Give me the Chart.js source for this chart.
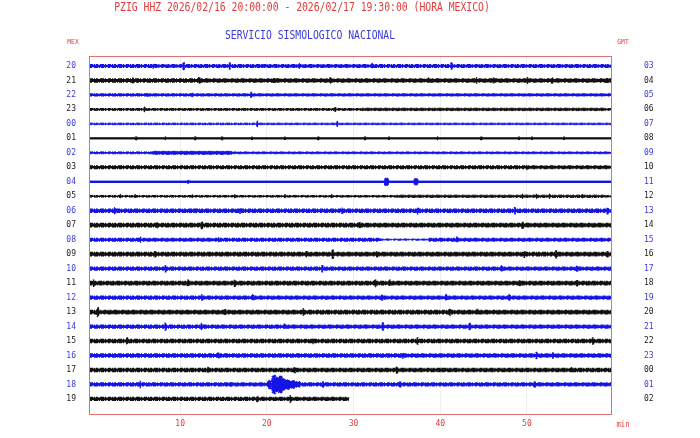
<!DOCTYPE html>
<html>
<head>
<meta charset="utf-8">
<script src="https://cdn.jsdelivr.net/npm/chart.js@4.4.1/dist/chart.umd.min.js"></script>
<style>
  html, body { margin: 0; padding: 0; background: #fff; }
  #wrap { width: 700px; height: 438px; }
</style>
</head>
<body>
<div id="wrap"><canvas id="heli" width="700" height="438"></canvas></div>
<script>
// hour labels for each 60-minute line
const mexHours = ['20','21','22','23','00','01','02','03','04','05','06','07','08','09','10','11','12','13','14','15','16','17','18','19'];
const gmtHours = ['03','04','05','06','07','08','09','10','11','12','13','14','15','16','17','18','19','20','21','22','23','00','01','02'];
const minuteTicks = [10, 20, 30, 40, 50];

// background noise level of each line (amplitude, arbitrary units)
const traceBase = [1.3, 1.5, 1.1, 0.9, 0.75, 0.6, 0.9, 1.2, 0.7, 0.8, 1.5, 1.6,
                   1.3, 1.6, 1.4, 1.6, 1.4, 1.6, 1.4, 1.5, 1.4, 1.4, 1.4, 1.4];

// arrivals / bursts on each line: [minute, amplitude, duration in minutes]
const traceEvents = [
    [[6.9, 2], [10.4, 3.5], [15.7, 3], [19.5, 2], [23.7, 2.2], [32.2, 2.5], [41.3, 3]],
    [[4.6, 2.5], [12.2, 3.2], [20.9, 2.5], [27.3, 2.5], [38.7, 2.5], [44.2, 2.5], [46.2, 3], [50.1, 3], [52.9, 2.5], [59.3, 2.5]],
    [[6.2, 2], [11.4, 2], [18.2, 3]],
    [[5.9, 2.5], [27.9, 2.5], [45, 1.2, 28]],
    [[18.9, 3], [28.1, 3]],
    [[4.9, 1.6], [8.3, 1.6], [11.7, 1.6], [14.8, 1.6], [18.3, 1.6], [22.1, 1.6], [25.9, 1.6], [31.3, 1.6], [34.1, 1.6], [39.7, 1.6], [44.7, 1.6], [49.1, 1.6], [50.6, 1.6], [54.3, 1.6]],
    [[11.4, 1.5, 9.2]],
    [[50, 1.8]],
    [[10.9, 1.5], [33.8, 3.5, 0.35], [37.2, 3, 0.35]],
    [[3.1, 1.8], [4.8, 1.8], [11.4, 1.8], [16.3, 1.8], [22.1, 1.8], [27.5, 1.8], [47, 1.1, 24], [49.5, 2.2], [51.1, 2.2], [52.6, 2.2], [56.4, 2.2]],
    [[2.5, 3], [11.7, 2.5], [16.9, 2.5], [28.7, 2.5], [37.4, 3], [48.6, 3], [59.3, 3]],
    [[7.4, 2.5], [12.5, 3.2], [30.7, 3], [49.5, 3]],
    [[5.4, 2.5], [14.4, 2], [41.9, 2.5]],
    [[7.1, 2.5], [24.6, 2.5], [27.6, 4], [32.7, 2.5], [49.7, 3], [53.4, 3.5], [59.3, 2.5]],
    [[8.3, 3], [26.4, 3], [47.1, 3], [55.8, 3]],
    [[0, 3], [10.9, 3], [16.3, 3], [32.5, 3.5], [34.2, 3], [49.2, 3], [55.8, 2.5]],
    [[12.5, 2.5], [18.4, 3], [33.3, 3], [40.7, 3], [48, 3]],
    [[0.5, 4.5], [15.2, 3], [24.2, 3], [41.1, 3.5], [44.3, 2.5]],
    [[8.3, 3.5], [12.5, 3], [22.1, 2.5], [33.4, 3.5], [43.4, 3]],
    [[3.9, 3], [25.3, 2.5], [37.4, 3], [57.6, 3]],
    [[14.4, 3], [35.7, 2.5], [51.1, 3], [53, 2.5]],
    [[13.2, 2.5], [23.2, 3], [35, 3], [40.3, 2.5], [55.2, 2.5]],
    [[5.4, 3], [15.8, 2.5], [20.3, 4, 0.25], [20.8, 9, 0.3], [21.2, 7, 0.3], [21.55, 8, 0.3], [21.9, 6, 0.3], [22.35, 4.5, 0.4],
     [22.9, 3.5, 0.5], [23.5, 2.6, 0.5], [26.5, 2.5], [35.4, 3], [50.9, 2.5]],
    [[18.9, 2.5], [22.7, 3]]
];

// flat stretches (data gap): [from minute, to minute, amplitude]
const quietSpans = { 12: [[33.1, 38.6, 0.35]] };
// the last line stops where the recording ends
const traceStop = { 23: 29.5 };

const X_MIN = -0.4, X_MAX = 59.7;
const AMP_TO_ROW = 1 / 14.48;
const RAMP = 0.08;
const BLUE = '#1414e6', BLACK = '#111111', RED = '#e03c3c';

function ampAt(r, x) {
    for (const [s, e, q] of (quietSpans[r] || [])) {
        if (x >= s && x <= e) return q;
    }
    const base = traceBase[r];
    let a = base;
    for (const [m, peak, w = 0.06] of traceEvents[r]) {
        const d = Math.abs(x - m) - w / 2;
        if (d <= 0) a = Math.max(a, peak);
        else if (d < RAMP) a = Math.max(a, peak - (peak - base) * d / RAMP);
    }
    return a;
}

function envelope(r) {
    const end = traceStop[r] !== undefined ? traceStop[r] : X_MAX;
    let xs = [X_MIN, end];
    for (const [m, , w = 0.06] of traceEvents[r]) {
        xs.push(m - w / 2 - RAMP, m - w / 2, m, m + w / 2, m + w / 2 + RAMP);
    }
    for (const [s, e] of (quietSpans[r] || [])) xs.push(s - 0.05, s, e, e + 0.05);
    xs = [...new Set(xs.filter(x => x >= X_MIN && x <= end).map(x => +x.toFixed(3)))].sort((a, b) => a - b);
    return {
        upper: xs.map(x => ({ x, y: r - ampAt(r, x) * AMP_TO_ROW })),
        lower: xs.map(x => ({ x, y: r + ampAt(r, x) * AMP_TO_ROW }))
    };
}

const datasets = [];
mexHours.forEach((h, r) => {
    const color = r % 2 === 0 ? BLUE : BLACK;
    const base = traceBase[r];
    const width = base >= 1.2 ? 1.5 : 1;
    const fuzzy = base > 0.7;
    const env = envelope(r);
    datasets.push({
        label: h + ' hi', data: env.upper, borderColor: color, borderWidth: width,
        borderDash: fuzzy ? [3, 1, 1, 1, 2, 2, 4, 1, 1, 2] : [], pointRadius: 0, fill: false, tension: 0
    });
    datasets.push({
        label: h + ' lo', data: env.lower, borderColor: color, backgroundColor: color,
        borderWidth: width, borderDash: fuzzy ? [2, 2, 4, 1, 1, 1, 3, 1, 1, 2] : [],
        pointRadius: 0, fill: '-1', tension: 0
    });
});

const rowTickColor = ctx => (ctx.index % 2 === 0 ? '#3a3ae0' : '#222222');
const rowTicks = axis => { axis.ticks = mexHours.map((_, i) => ({ value: i })); };
const fixRowAxis = width => s => { s.width = width; s.paddingTop = 0; s.paddingBottom = 0; };

function squeezedText(ctx, str, cx, cy, size, color, sx) {
    ctx.save();
    ctx.font = size + 'px "DejaVu Sans Mono"';
    ctx.fillStyle = color;
    ctx.textAlign = 'center';
    ctx.textBaseline = 'middle';
    ctx.translate(cx, cy);
    ctx.scale(sx, 1);
    ctx.fillText(str, 0, 0);
    ctx.restore();
}

const frameAndLabels = {
    id: 'frameAndLabels',
    afterDraw(chart) {
        const { ctx, chartArea: a } = chart;
        ctx.save();
        ctx.strokeStyle = '#e07070';
        ctx.lineWidth = 1;
        ctx.strokeRect(a.left - 0.5, a.top - 0.5, a.right - a.left + 1, a.bottom - a.top + 1);
        ctx.restore();
        squeezedText(ctx, 'PZIG HHZ 2026/02/16 20:00:00 - 2026/02/17 19:30:00 (HORA MEXICO)', 302, 8, 13, RED, 0.75);
        squeezedText(ctx, 'SERVICIO SISMOLOGICO NACIONAL', 310, 36, 13, '#3a3ad8', 0.75);
        squeezedText(ctx, 'MEX', 73, 42, 7, RED, 0.9);
        squeezedText(ctx, 'GMT', 623, 42, 7, RED, 0.9);
        squeezedText(ctx, 'min', 623, 425, 8, RED, 0.9);
    }
};

new Chart(document.getElementById('heli').getContext('2d'), {
    type: 'line',
    data: { datasets },
    plugins: [frameAndLabels],
    options: {
        responsive: false,
        animation: false,
        devicePixelRatio: 1,
        layout: { padding: { top: 57, left: 0, right: 0, bottom: 0 } },
        plugins: { legend: { display: false }, tooltip: { enabled: false } },
        scales: {
            x: {
                type: 'linear', min: X_MIN, max: X_MAX,
                afterBuildTicks: axis => { axis.ticks = minuteTicks.map(v => ({ value: v })); },
                afterFit: s => { s.height = 24; },
                ticks: { color: RED, font: { family: 'DejaVu Sans Mono', size: 8 }, padding: 5, maxRotation: 0, autoSkip: false },
                grid: { color: '#eeeeee', drawTicks: false },
                border: { display: false }
            },
            y: {
                position: 'left', min: -0.62, max: 24.04, reverse: true,
                afterBuildTicks: rowTicks,
                afterFit: fixRowAxis(90),
                ticks: { callback: (v, i) => mexHours[i], color: rowTickColor, font: { family: 'DejaVu Sans Mono', size: 8 }, padding: 14, autoSkip: false },
                grid: { display: false, drawTicks: false },
                border: { display: false }
            },
            y2: {
                position: 'right', min: -0.62, max: 24.04, reverse: true,
                afterBuildTicks: rowTicks,
                afterFit: fixRowAxis(89),
                ticks: { callback: (v, i) => gmtHours[i], color: rowTickColor, font: { family: 'DejaVu Sans Mono', size: 8 }, padding: 33, autoSkip: false },
                grid: { display: false, drawTicks: false },
                border: { display: false }
            }
        }
    }
});
</script>
</body>
</html>
